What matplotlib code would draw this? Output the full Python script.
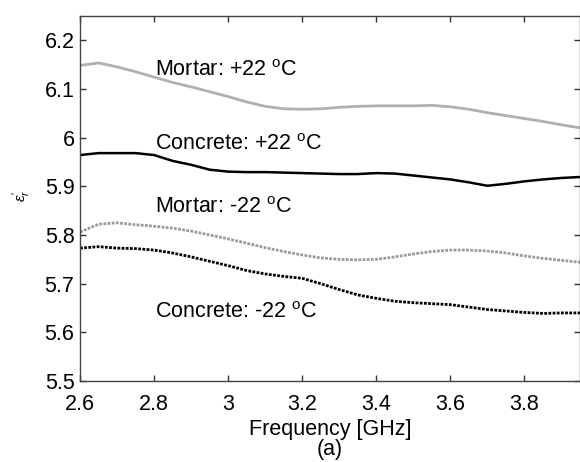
import numpy as np
import matplotlib
matplotlib.use('Agg')
import matplotlib.pyplot as plt

plt.rcParams['font.family'] = ['Liberation Sans', 'DejaVu Sans']
plt.rcParams['mathtext.fontset'] = 'custom'
plt.rcParams['mathtext.rm'] = 'Liberation Sans'
plt.rcParams['mathtext.it'] = 'Liberation Sans:italic'

# frequency grid [GHz]
freq = [2.60, 2.65, 2.70, 2.75, 2.80, 2.85, 2.90, 2.95, 3.00, 3.05,
        3.10, 3.15, 3.20, 3.25, 3.30, 3.35, 3.40, 3.45, 3.50, 3.55,
        3.60, 3.65, 3.70, 3.75, 3.80, 3.85, 3.90, 3.95]

mortar_p22 = [6.148, 6.153, 6.145, 6.135, 6.124, 6.113, 6.104, 6.094, 6.084, 6.073,
              6.064, 6.059, 6.058, 6.059, 6.062, 6.064, 6.065, 6.065, 6.065, 6.066,
              6.063, 6.058, 6.051, 6.045, 6.039, 6.033, 6.026, 6.020]
concrete_p22 = [5.964, 5.968, 5.968, 5.968, 5.964, 5.952, 5.944, 5.934, 5.930, 5.929,
                5.929, 5.928, 5.927, 5.926, 5.925, 5.925, 5.927, 5.926, 5.922, 5.918,
                5.914, 5.908, 5.901, 5.905, 5.910, 5.914, 5.917, 5.919]
mortar_m22 = [5.806, 5.822, 5.825, 5.821, 5.818, 5.814, 5.808, 5.800, 5.792, 5.783,
              5.774, 5.766, 5.759, 5.753, 5.750, 5.749, 5.750, 5.755, 5.761, 5.766,
              5.769, 5.769, 5.767, 5.763, 5.757, 5.752, 5.748, 5.744]
concrete_m22 = [5.773, 5.776, 5.773, 5.772, 5.769, 5.763, 5.755, 5.746, 5.737, 5.727,
                5.720, 5.715, 5.711, 5.700, 5.688, 5.677, 5.670, 5.664, 5.661, 5.659,
                5.657, 5.652, 5.647, 5.644, 5.641, 5.639, 5.640, 5.640]

labels = [r'Mortar: +22 $^{\mathrm{o}}$C', r'Concrete: +22 $^{\mathrm{o}}$C',
          r'Mortar: -22 $^{\mathrm{o}}$C', r'Concrete: -22 $^{\mathrm{o}}$C']
label_y = [6.126, 5.974, 5.845, 5.629]

xticks = [2.6, 2.8, 3.0, 3.2, 3.4, 3.6, 3.8]
xticklabels = ['2.6', '2.8', '3', '3.2', '3.4', '3.6', '3.8']
yticks = [5.5, 5.6, 5.7, 5.8, 5.9, 6.0, 6.1, 6.2]
yticklabels = ['5.5', '5.6', '5.7', '5.8', '5.9', '6', '6.1', '6.2']

fs = 15.5

fig = plt.figure(figsize=(5.8, 4.62), dpi=100)
ax = fig.add_axes([0.138, 0.175, 0.862, 0.791])

ax.plot(freq, mortar_p22, color='#b0b0b0', lw=2.0)
ax.plot(freq, concrete_p22, color='black', lw=1.8)
ax.plot(freq, mortar_m22, color='#9a9a9a', lw=2.0, linestyle=(0, (1, 0.5)))
ax.plot(freq, concrete_m22, color='black', lw=2.0, linestyle=(0, (1, 0.5)))

for txt, yy in zip(labels, label_y):
    ax.text(2.802, yy, txt, fontsize=fs, va='baseline', ha='left')

ax.set_xlim(2.6, 3.95)
ax.set_ylim(5.5, 6.25)
ax.set_xticks(xticks)
ax.set_xticklabels(xticklabels)
ax.set_yticks(yticks)
ax.set_yticklabels(yticklabels)
ax.tick_params(direction='in', length=4, width=1, top=True, right=True,
               labelsize=fs, color='#333333')
ax.tick_params(axis='x', pad=9)
ax.tick_params(axis='y', pad=4)
for s in ax.spines.values():
    s.set_color('#444444')
    s.set_linewidth(1.0)

ax.set_xlabel('Frequency [GHz]', fontsize=fs, labelpad=3)
fig.text(22 / 580, 1 - 196 / 462, r"$\epsilon_r'$", fontsize=11, rotation=90,
         ha='center', va='center')
fig.text(0.568, 1 - 449 / 462, '(a)', fontsize=fs, ha='center', va='center')

fig.savefig('out.png', dpi=100)
